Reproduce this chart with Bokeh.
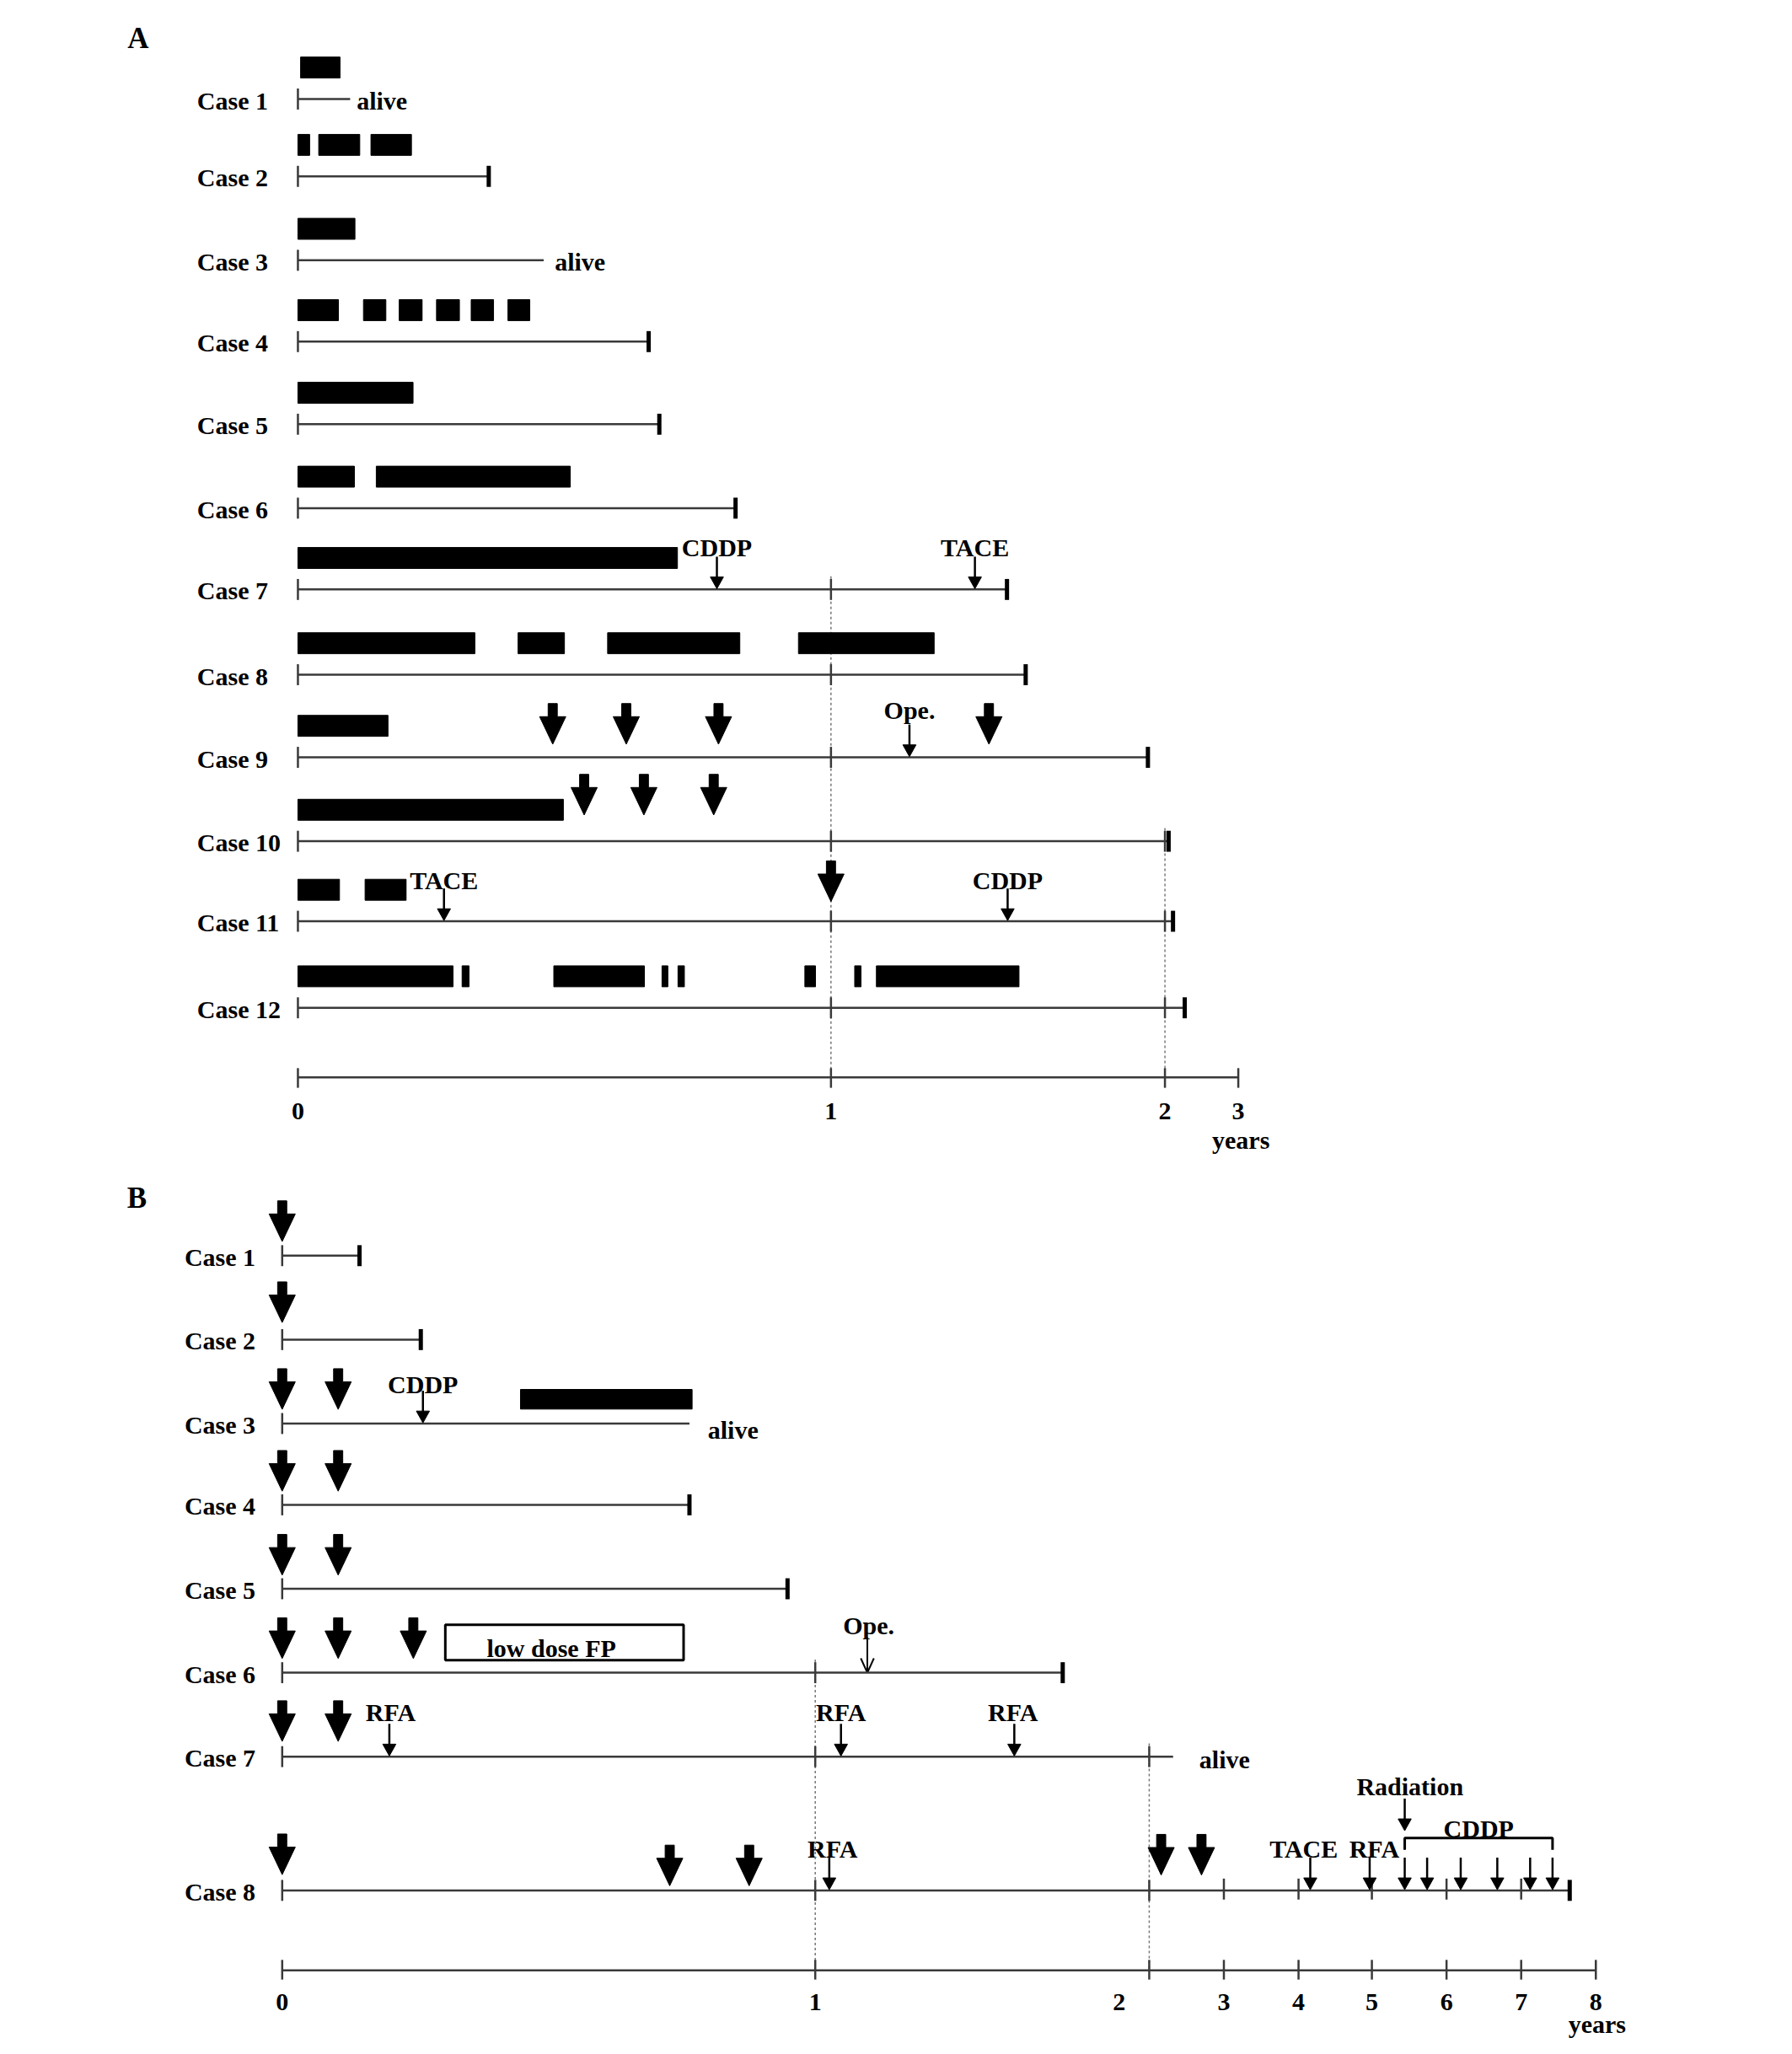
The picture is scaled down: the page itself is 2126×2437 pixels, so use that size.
import numpy as np
from bokeh.plotting import figure
from bokeh.models import Range1d
from bokeh.core.properties import value
from bokeh.embed import file_html
from bokeh.resources import INLINE

# ------------------------------------------------------------------ data (years)
# Panel A
A_cases = [f"Case {i}" for i in range(1, 13)]
A_end_years = [0.098, 0.358, 0.461, 0.658, 0.678, 0.821, 1.527, 1.583, 1.949, 2.05, 2.11, 2.27]
A_alive = [True, False, True, False, False, False, False, False, False, False, False, False]
A_bars = [
    [(0.005, 0.079)],
    [(0.0, 0.022), (0.039, 0.116), (0.137, 0.213)],
    [(0.0, 0.107)],
    [(0.0, 0.076), (0.123, 0.165), (0.190, 0.233), (0.260, 0.303), (0.325, 0.367), (0.394, 0.435)],
    [(0.0, 0.216)],
    [(0.0, 0.106), (0.147, 0.511)],
    [(0.0, 0.712)],
    [(0.0, 0.332), (0.413, 0.500), (0.581, 0.829), (0.939, 1.309)],
    [(0.0, 0.169)],
    [(0.0, 0.498)],
    [(0.0, 0.078), (0.126, 0.203)],
    [(0.0, 0.291), (0.308, 0.321), (0.480, 0.650), (0.683, 0.694), (0.713, 0.725),
     (0.951, 0.971), (1.071, 1.090), (1.136, 1.563)],
]
A_big_case = [9, 9, 9, 9, 10, 10, 10, 11]
A_big_year = [0.478, 0.616, 0.789, 1.473, 0.537, 0.649, 0.780, 1.0]
A_evt_case = [7, 7, 9, 11, 11]
A_evt_year = [0.786, 1.431, 1.235, 0.274, 1.529]
A_evt_label = ["CDDP", "TACE", "Ope.", "TACE", "CDDP"]
A_tick_years = [0, 1, 2, 3]
A_tick_labels = ["0", "1", "2", "3"]

# Panel B
B_cases = [f"Case {i}" for i in range(1, 9)]
B_end_years = [0.145, 0.260, 0.764, 0.764, 0.948, 1.741, 2.32, 7.65]
B_alive = [False, False, True, False, False, False, True, False]
B_bars_case = [3]
B_bars = [(0.447, 0.769)]
B_big_case = [1, 2, 3, 3, 4, 4, 5, 5, 6, 6, 6, 7, 7, 8, 8, 8, 8, 8]
B_big_year = [0, 0, 0, 0.105, 0, 0.105, 0, 0.105, 0, 0.105, 0.246, 0, 0.105,
              0, 0.727, 0.876, 2.16, 2.70]
B_evt_case = [3, 7, 7, 7, 8, 8, 8]
B_evt_year = [0.264, 0.201, 1.077, 1.596, 1.042, 4.16, 4.97]
B_evt_label = ["CDDP", "RFA", "RFA", "RFA", "RFA", "TACE", "RFA"]
B_ope_case = 6
B_ope_year = 1.156
B_box_case = 6
B_box_years = (0.306, 0.753)
B_box_label = "low dose FP"
B_cddp_case = 8
B_cddp_years = [5.44, 5.74, 6.19, 6.68, 7.12, 7.42]
B_radiation_year = 5.44
B_tick_years = [0, 1, 2, 3, 4, 5, 6, 7, 8]
B_tick_labels = ["0", "1", "2", "3", "4", "5", "6", "7", "8"]

# ------------------------------------------------------------------ layout
W, H = 2110, 2421
X_VIEW = (-0.15, 1357.8)        # layout units visible across the canvas
Y_VIEW = (1556.8, 0.84)         # top-down layout units
A_scale_pos = [227, 634, 889, 945]                                   # broken time axis A
B_scale_pos = [215, 622, 877, 934, 991, 1047, 1104, 1161, 1218]      # broken time axis B
A_rows = [76, 135, 199, 261, 324, 388, 450, 515, 578, 642, 703, 769]
B_rows = [958, 1022, 1086, 1148, 1212, 1276, 1340, 1442]
A_axis_y, B_axis_y = 822, 1503
A_label_x, B_label_x = 150, 140.4
A_alive_dx = [5, 0, 8.5] + [0] * 9
B_alive_dx = [0, 0, 14, 0, 0, 0, 20, 0]
B_alive_dy = [0, 0, 3.7, 0, 0, 0, 1, 0]
A_big_gap = [10, 10, 10, 10, 20, 20, 20, 15]
B_big_gap = [10.8, 13, 10.8, 10.8, 10.4, 10.4, 10.4, 10.4, 10.8, 10.8, 10.8, 11.6, 11.6,
             12, 3.5, 3.5, 11.7, 11.7]
A_evt_dy = [32, 32, 36, 31, 31]
B_evt_dy = [30, 34, 34, 34, 32, 32, 32]
B_evt_dx = [0, 1, 0, -1, 2.5, -5, 3.5]
B_tick_label_dx = [0, 0, -23, 0, 0, 0, 0, 0, 0]


def xa(yr):
    return float(np.interp(yr, A_tick_years, A_scale_pos))


def xb(yr):
    return float(np.interp(yr, B_tick_years, B_scale_pos))


p = figure(width=W, height=H,
           x_range=Range1d(*X_VIEW),
           y_range=Range1d(*Y_VIEW),
           output_backend="svg", toolbar_location=None,
           x_axis_location=None, y_axis_location=None, min_border=0)
p.grid.visible = False
p.outline_line_color = None
p.background_fill_color = "white"
p.border_fill_color = "white"

FONT = value("Liberation Serif")
LINE_C = "#3a3a3a"


def txt(xs, ys, texts, align="center", size="30px", baseline="middle"):
    p.text(x=xs, y=ys, text=texts, text_font=FONT, text_font_style="bold",
           text_font_size=size, text_align=align, text_baseline=baseline, text_color="black")


thin = dict(x0=[], y0=[], x1=[], y1=[])
thick = dict(x0=[], y0=[], x1=[], y1=[])
dotted = dict(x0=[], y0=[], x1=[], y1=[])
quads = dict(left=[], right=[], top=[], bottom=[])
polys = dict(xs=[], ys=[])
arrow_shafts = dict(x0=[], y0=[], x1=[], y1=[])


def seg(d, x0, y0, x1, y1):
    d["x0"].append(x0); d["y0"].append(y0); d["x1"].append(x1); d["y1"].append(y1)


def big_arrow(x, tip):
    polys["xs"].append([x - 3.5, x + 3.5, x + 3.5, x + 10, x, x - 10, x - 3.5])
    polys["ys"].append([tip - 31, tip - 31, tip - 21, tip - 21, tip, tip - 21, tip - 21])


def thin_arrow(x, top, tip):
    seg(arrow_shafts, x, top, x, tip - 8)
    polys["xs"].append([x - 5, x + 5, x])
    polys["ys"].append([tip - 9.5, tip - 9.5, tip - 0.5])


def timelines(xmap, rows, ends, alive):
    for r, e, a in zip(rows, ends, alive):
        x0, x1 = xmap(0), xmap(e)
        seg(thin, x0, r, x1, r)
        seg(thin, x0, r - 8, x0, r + 8)
        if not a:
            seg(thick, x1, r - 8, x1, r + 8)


# ---------------- Panel A
timelines(xa, A_rows, A_end_years, A_alive)
for r, bars in zip(A_rows, A_bars):
    for b0, b1 in bars:
        quads["left"].append(xa(b0)); quads["right"].append(xa(b1))
        quads["top"].append(r - 32); quads["bottom"].append(r - 16)
for c, yr, g in zip(A_big_case, A_big_year, A_big_gap):
    big_arrow(xa(yr), A_rows[c - 1] - g)
for c, yr in zip(A_evt_case, A_evt_year):
    r = A_rows[c - 1]
    thin_arrow(xa(yr), r - 25, r)
txt([xa(yr) for yr in A_evt_year], [A_rows[c - 1] - dy for c, dy in zip(A_evt_case, A_evt_dy)], A_evt_label)
# axis A
seg(thin, xa(0), A_axis_y, xa(3), A_axis_y)
for t in A_tick_years:
    seg(thin, xa(t), A_axis_y - 7, xa(t), A_axis_y + 8)
txt([xa(t) for t in A_tick_years], [A_axis_y + 26] * 4, A_tick_labels)
txt([xa(3) + 2], [A_axis_y + 48], ["years"])
# guide lines A
for yr, start_row in [(1, 6), (2, 9)]:
    seg(dotted, xa(yr), A_rows[start_row] - 10, xa(yr), A_axis_y)
    for r, e in zip(A_rows[start_row:], A_end_years[start_row:]):
        if e > yr:
            seg(thin, xa(yr), r - 8, xa(yr), r + 8)
txt([A_label_x] * len(A_cases), [r + 1 for r in A_rows], A_cases, align="left")
txt([xa(e) + dx for e, dx, a in zip(A_end_years, A_alive_dx, A_alive) if a],
    [r + 1 for r, a in zip(A_rows, A_alive) if a], ["alive"] * sum(A_alive), align="left")
txt([105], [30], ["A"], size="35px")

# ---------------- Panel B
timelines(xb, B_rows, B_end_years, B_alive)
for c, (b0, b1) in zip(B_bars_case, B_bars):
    r = B_rows[c - 1]
    quads["left"].append(xb(b0)); quads["right"].append(xb(b1))
    quads["top"].append(r - 26); quads["bottom"].append(r - 11)
for c, yr, g in zip(B_big_case, B_big_year, B_big_gap):
    big_arrow(xb(yr), B_rows[c - 1] - g)
for c, yr in zip(B_evt_case, B_evt_year):
    r = B_rows[c - 1]
    thin_arrow(xb(yr), r - 25, r)
txt([xb(yr) + dx for yr, dx in zip(B_evt_year, B_evt_dx)],
    [B_rows[c - 1] - dy for c, dy in zip(B_evt_case, B_evt_dy)], B_evt_label)
# Ope. (open arrow head)
r6 = B_rows[B_ope_case - 1]
xo = xb(B_ope_year)
p.line(x=[xo, xo], y=[r6 - 27, r6], line_width=2, line_color="black")
p.line(x=[xo - 5, xo, xo + 5], y=[r6 - 11, r6, r6 - 11], line_width=2, line_color="black")
txt([xo + 1], [r6 - 36], ["Ope."])
# low dose FP box
p.quad(left=[xb(B_box_years[0])], right=[xb(B_box_years[1])], top=[r6 - 36.6], bottom=[r6 - 9.5],
       fill_color=None, line_color="black", line_width=3)
txt([(xb(B_box_years[0]) + xb(B_box_years[1])) / 2 - 10], [r6 - 19], [B_box_label])
# CDDP courses, bracket and radiation
r8 = B_rows[B_cddp_case - 1]
for yr in B_cddp_years:
    thin_arrow(xb(yr), r8 - 25, r8)
bx0, bx1 = xb(B_cddp_years[0]), xb(B_cddp_years[-1])
p.multi_line(xs=[[bx0, bx0, bx1, bx1]], ys=[[r8 - 31, r8 - 40, r8 - 40, r8 - 31]],
             line_width=3, line_color="black")
txt([(bx0 + bx1) / 2], [r8 - 47], ["CDDP"])
xr = xb(B_radiation_year)
thin_arrow(xr, r8 - 70, r8 - 45)
txt([xr + 4], [r8 - 79], ["Radiation"])
# ticks along case 8
for t in B_tick_years:
    if 2 < t < B_end_years[7]:
        seg(thin, xb(t), r8 - 9, xb(t), r8 + 7)
# axis B
seg(thin, xb(0), B_axis_y, xb(8), B_axis_y)
for t in B_tick_years:
    seg(thin, xb(t), B_axis_y - 8, xb(t), B_axis_y + 7)
txt([xb(t) + dx for t, dx in zip(B_tick_years, B_tick_label_dx)], [B_axis_y + 24] * 9, B_tick_labels)
txt([xb(8) + 1], [B_axis_y + 41], ["years"])
# guide lines B
for yr, start_row in [(1, 5), (2, 6)]:
    seg(dotted, xb(yr), B_rows[start_row] - 10, xb(yr), B_axis_y)
    for r, e in zip(B_rows[start_row:], B_end_years[start_row:]):
        if e > yr:
            seg(thin, xb(yr), r - 8, xb(yr), r + 8)
txt([B_label_x] * len(B_cases), [r + 1 for r in B_rows], B_cases, align="left")
txt([xb(e) + dx for e, dx, a in zip(B_end_years, B_alive_dx, B_alive) if a],
    [r + 1 + dy for r, dy, a in zip(B_rows, B_alive_dy, B_alive) if a], ["alive"] * sum(B_alive), align="left")
txt([104], [914], ["B"], size="35px")

# ---------------- render collected glyphs
p.segment(**dotted, line_width=1.5, line_color="#777777", line_dash="3 3")
p.segment(**thin, line_width=2.5, line_color=LINE_C)
p.segment(**thick, line_width=5, line_color="black")
p.segment(**arrow_shafts, line_width=2.5, line_color="black")
p.quad(**quads, fill_color="black", line_color="black", line_width=1)
p.patches(**polys, fill_color="black", line_color="black", line_width=1)

open("out.html", "w").write(file_html(p, INLINE))
